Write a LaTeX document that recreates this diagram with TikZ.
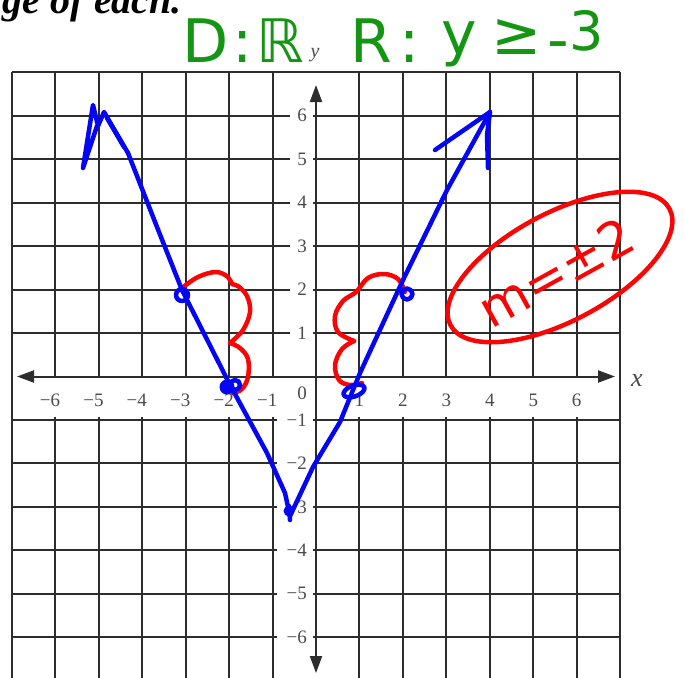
\documentclass[tikz,border=0pt]{standalone}
\usepackage{fontspec}
\setmainfont{Liberation Serif}
\newfontfamily\handfont{DejaVu Sans}
\usetikzlibrary{arrows.meta}
\definecolor{gridcol}{RGB}{45,45,45}
\definecolor{labcol}{RGB}{75,75,75}
\definecolor{penblue}{RGB}{5,5,245}
\definecolor{penred}{RGB}{250,5,5}
\definecolor{pengreen}{RGB}{20,150,20}
\tikzset{
  gridline/.style={draw=gridcol, line width=2pt},
  axisline/.style={draw=gridcol, line width=2pt, -{Triangle[length=17pt,width=12pt]}},
  lab/.style={font=\fontsize{19}{19}\selectfont, text=labcol, inner sep=0pt},
  bluepen/.style={draw=penblue, line width=4.5pt, line cap=round, line join=round},
  redpen/.style={draw=penred, line width=4.5pt, line cap=round, line join=round},
  gtext/.style={font=\handfont\fontsize{60}{60}\selectfont, text=pengreen, inner sep=0pt, anchor=base},
}
\begin{document}
\begin{tikzpicture}[x=1pt,y=-1pt]
\useasboundingbox (0,0) rectangle (684,677);
\clip (0,0) rectangle (684,677);
\def\ox{316}\def\oy{376.5}\def\u{43.45}
% vertical grid lines
\foreach \i in {-6,-5,-4,-3,-2,-1,1,2,3,4,5,6} {
  \draw[gridline] ({\ox+\u*\i},72.35) -- ({\ox+\u*\i},376.5);
  \draw[gridline] ({\ox+\u*\i},416.7) -- ({\ox+\u*\i},690);
}
\draw[gridline] (11.85,72.35) -- (11.85,690);
\draw[gridline] (620.2,72.35) -- (620.2,690);
% horizontal grid lines
\draw[gridline] (11.85,72.35) -- (620.2,72.35);
\foreach \j in {1,...,6} {
  \draw[gridline] (11.85,{\oy-\u*\j}) -- (290,{\oy-\u*\j});
  \draw[gridline] (313,{\oy-\u*\j}) -- (620.2,{\oy-\u*\j});
  \draw[gridline] (11.85,{\oy+\u*\j}) -- (277,{\oy+\u*\j});
  \draw[gridline] (313,{\oy+\u*\j}) -- (620.2,{\oy+\u*\j});
}
% axes
\coordinate (xL) at (17,376.5);
\coordinate (xR) at (615,376.5);
\coordinate (yT) at (316,85);
\coordinate (yB) at (316,673);
\coordinate (orig) at (316,376.5);
\draw[axisline] (orig) -- (xL);
\draw[axisline] (orig) -- (xR);
\draw[axisline] (orig) -- (yT);
\draw[axisline] (orig) -- (yB);
% tick labels
\foreach \i in {1,...,6} {
  \node[lab] (xp\i) at ({\ox+\u*\i},400) {\i};
  \node[lab] (xn\i) at ({\ox-\u*\i},400) {\llap{−}\i};
  \node[lab] (yp\i) at (302,{\oy-\u*\i}) {\i};
  \node[lab] (yn\i) at (302,{\oy+\u*\i}) {\llap{−}\i};
}
\node[lab] (zero) at (302,393) {0};
\node[font=\fontsize{26}{26}\selectfont\itshape, text=labcol, inner sep=0pt] (xname) at (637,381) {x};
\node[font=\fontsize{20}{20}\selectfont\itshape, text=labcol, inner sep=0pt] (yname) at (315,55) {y};
% heading fragment
\node[anchor=base east, inner sep=0pt, font=\fontsize{40}{40}\selectfont\bfseries\itshape] (hdr) at (182,14) {ge of each.};
% green handwriting
\node[gtext] (gD) at (206,63) {D};
\node[gtext] (gc1) at (243,63) {:};
\node[gtext] (gRR) at (280,63) {ℝ};
\node[gtext] (gR) at (371,63) {R};
\node[gtext] (gc2) at (410,63) {:};
\node[gtext] (gy) at (459,55) {y};
\node[gtext] (gge) at (517,55) {≥};
\node[gtext] (gmin) at (558,60) {-};
\node[gtext, font=\handfont\fontsize{54}{54}\selectfont] (g3) at (587,51) {3};
% red braces
\draw[redpen] plot[smooth, tension=0.6] coordinates {(182,288) (198,277) (216,272) (228,277) (232,284) (238,286) (247,296) (250,312) (243,330) (230,343)};
\draw[redpen] plot[smooth, tension=0.6] coordinates {(230,343) (240,348) (248,359) (248,377) (242,389) (233,393)};
\draw[redpen] plot[smooth, tension=0.6] coordinates {(405,292) (398,279) (384,274) (368,278) (356,292) (343,301) (335,316) (338,332) (354,341)};
\draw[redpen] plot[smooth, tension=0.6] coordinates {(354,341) (342,349) (335,365) (339,380) (350,385) (362,383)};
% red slope note
\draw[redpen, rotate around={28:(560,267)}] (560,267) ellipse [x radius=124pt, y radius=54pt];
\node[font=\handfont\fontsize{51}{51}\selectfont, text=penred, inner sep=0pt, rotate=29] (slope) at (556,272) {m=±2};
% blue graph
\draw[bluepen] (128,153) -- (157,227) -- (182,290) -- (229,383) -- (267,453) -- (285,493) -- (290,516);
\draw[bluepen] (290,516) -- (313,467) -- (340,422) -- (353,390) -- (360,373) -- (403,280) -- (447,190) -- (490,112);
\draw[bluepen] (128,153) -- (104,112) -- (98,126) -- (93,105) -- (83,168) -- (97,126);
\draw[bluepen] (107,118) -- (124,147);
\draw[bluepen] (435,150) -- (490,112) -- (487,135) -- (488,168);
% blue points
\draw[bluepen] (182,295) circle (6pt);
\fill[penblue] (227,387) circle (7.5pt);
\draw[bluepen] (235,385) circle (5pt);
\draw[bluepen, rotate around={20:(354,391)}] (354,391) ellipse [x radius=11pt, y radius=5.5pt];
\draw[bluepen] (407,294) circle (5.5pt);
\fill[penblue] (289,511) circle (5.5pt);
\draw[bluepen] (289,506) -- (290,520);
\end{tikzpicture}
\end{document}
